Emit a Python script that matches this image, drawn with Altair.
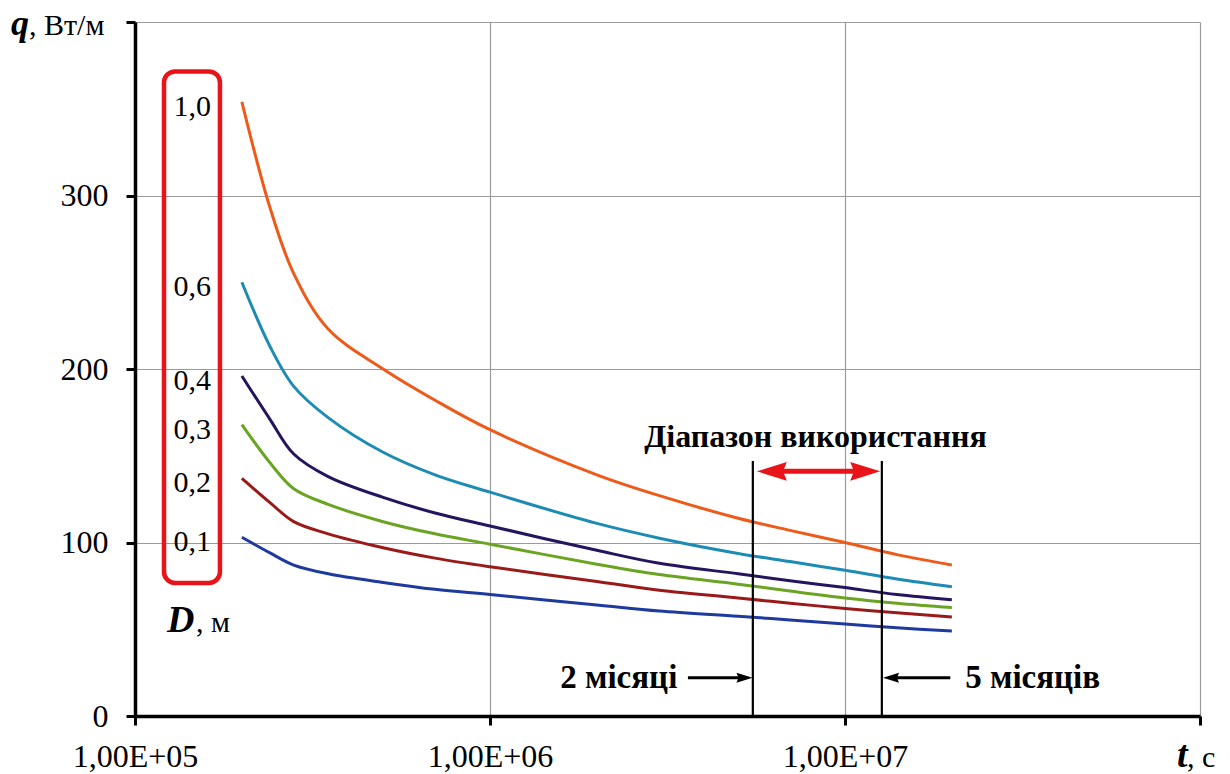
import altair as alt
import pandas as pd

# ---- data ----
t_values = [2e5, 2.4e5, 2.8e5, 3.5e5, 5e5, 7e5, 1e6, 2e6, 3e6, 5e6, 7e6, 1e7, 1.4e7, 2e7]
q_d10 = [354, 293, 255, 223, 200, 182, 165, 139, 127, 114, 107, 100, 93, 87]
q_d06 = [250, 213, 190, 172, 152, 139, 129, 111, 102.5, 93.7, 89, 84, 79, 74.5]
q_d04 = [196, 171, 151, 138, 126, 117, 109.5, 95.5, 88, 82, 78, 74, 70, 67]
q_d03 = [168, 146, 131, 122, 112, 105, 99, 87.5, 81.5, 76, 72, 68, 65, 62.5]
q_d02 = [137, 123, 112, 105, 97, 91, 86, 77.5, 72.5, 68, 65, 62, 59.5, 57]
q_d01 = [103, 94, 87, 82, 77, 73, 70, 64, 60.5, 57.5, 55.4, 53, 50.8, 49]
d_labels = ["1,0", "0,6", "0,4", "0,3", "0,2", "0,1"]
series_colors = ["#EE5A1A", "#1E8BB4", "#25145E", "#6BA322", "#9A1A1A", "#1E3A9E"]

x_ticks = [1e5, 1e6, 1e7, 1e8]
y_ticks = [0, 100, 200, 300, 400]

range_bounds = [5.5e6, 1.27e7]      # 2 months / 5 months
range_top_q = 147
range_arrow_q = 141
range_arrow_body = [6.22e6, 1.14e7]
range_title = "Діапазон використання"
range_title_t = 8.26e6
range_title_q = 155

month_q = 22
label_2m = "2 місяці"
label_5m = "5 місяців"

legend_t = 1.45e5
box_t = [1.207e5, 1.735e5]
box_q = [76.7, 371.5]

FONT = "Liberation Serif"

rows = []
for lab, qs in zip(d_labels, [q_d10, q_d06, q_d04, q_d03, q_d02, q_d01]):
    for t, q in zip(t_values, qs):
        rows.append({"t": t, "q": q, "D": lab})
df = pd.DataFrame(rows)

xscale = alt.Scale(type="log", domain=[1e5, 1e8], nice=False)
yscale = alt.Scale(domain=[0, 400], nice=False)

x_axis = alt.Axis(
    values=x_ticks, title=None, labelFlush=False,
    labelExpr="datum.value >= 1e8 ? '' : '1,00E+0' + round(log(datum.value)/LN10)",
    grid=True, gridColor="#9a9a9a", gridWidth=1.2,
    domainColor="black", domainWidth=3.5, tickColor="black", tickWidth=3, tickSize=9,
    labelFont=FONT, labelFontSize=32, labelColor="black", labelPadding=16,
)
y_axis = alt.Axis(
    values=y_ticks, title=None, labelFlush=False,
    labelExpr="datum.value >= 400 ? '' : datum.label",
    grid=True, gridColor="#9a9a9a", gridWidth=1.2,
    domainColor="black", domainWidth=3.5, tickColor="black", tickWidth=3, tickSize=9,
    labelFont=FONT, labelFontSize=32, labelColor="black", labelPadding=18,
)

def X(field):
    return alt.X(field, type="quantitative", scale=xscale, axis=x_axis)

def Y(field):
    return alt.Y(field, type="quantitative", scale=yscale, axis=y_axis)

lines = alt.Chart(df).mark_line(strokeWidth=3, interpolate="catmull-rom").encode(
    x=X("t"),
    y=Y("q"),
    color=alt.Color("D:N", scale=alt.Scale(domain=d_labels, range=series_colors), legend=None),
)

# legend labels
first_q = [q_d10[0], q_d06[0], q_d04[0], q_d03[0], q_d02[0], q_d01[0]]
df_lab = pd.DataFrame({"D": d_labels, "q": first_q, "t": [legend_t] * len(d_labels)})
labels = alt.Chart(df_lab).mark_text(font=FONT, fontSize=30, color="black", dy=5, baseline="middle").encode(
    x=X("t"), y=Y("q"), text="D:N",
)

box = alt.Chart(pd.DataFrame({"t1": [box_t[0]], "t2": [box_t[1]], "q1": [box_q[0]], "q2": [box_q[1]]})).mark_rect(
    fillOpacity=0, stroke="#E8141A", strokeWidth=4.5, cornerRadius=11
).encode(x=X("t1"), x2="t2:Q", y=Y("q1"), y2="q2:Q")

# boundary rules
bounds = alt.Chart(pd.DataFrame({"t": range_bounds, "q1": [range_top_q] * 2, "q2": [0, 0]})).mark_rule(
    color="black", strokeWidth=2.2
).encode(x=X("t"), y=Y("q1"), y2="q2:Q")

# red double arrow
red_body = alt.Chart(pd.DataFrame({"t1": [range_arrow_body[0]], "t2": [range_arrow_body[1]], "q": [range_arrow_q]})).mark_rule(
    color="#E8141A", strokeWidth=5
).encode(x=X("t1"), x2="t2:Q", y=Y("q"))

left_head = "M-1,0L1,-0.62L0.75,0L1,0.62Z"
right_head = "M1,0L-1,-0.62L-0.75,0L-1,0.62Z"
red_heads = alt.Chart(pd.DataFrame({"t": range_arrow_body, "q": [range_arrow_q] * 2, "dir": ["l", "r"]})).mark_point(
    filled=True, opacity=1, color="#E8141A", size=900
).encode(
    x=X("t"), y=Y("q"),
    shape=alt.Shape("dir:N", scale=alt.Scale(domain=["l", "r"], range=[left_head, right_head]), legend=None),
)

range_text = alt.Chart(pd.DataFrame({"t": [range_title_t], "q": [range_title_q], "s": [range_title]})).mark_text(
    font=FONT, fontSize=32, fontWeight="bold", color="black", baseline="alphabetic", align="center"
).encode(x=X("t"), y=Y("q"), text="s:N")

# small black arrows for 2 / 5 months
month_arrow_lines = alt.Chart(pd.DataFrame({"t1": [3.61e6, 1.35e7], "t2": [5.2e6, 1.98e7], "q": [month_q] * 2})).mark_rule(
    color="black", strokeWidth=3
).encode(x=X("t1"), x2="t2:Q", y=Y("q"))

month_heads = alt.Chart(pd.DataFrame({"t": [5.21e6, 1.348e7], "q": [month_q] * 2, "dir": ["r", "l"]})).mark_point(
    filled=True, opacity=1, color="black", size=256
).encode(
    x=X("t"), y=Y("q"),
    shape=alt.Shape("dir:N", scale=alt.Scale(domain=["l", "r"], range=[left_head, right_head]), legend=None),
)
txt2 = alt.Chart(pd.DataFrame({"t": [3.37e6], "q": [month_q], "s": [label_2m]})).mark_text(
    font=FONT, fontSize=33, fontWeight="bold", color="black", align="right", baseline="middle"
).encode(x=X("t"), y=Y("q"), text="s:N")
txt5 = alt.Chart(pd.DataFrame({"t": [2.18e7], "q": [month_q], "s": [label_5m]})).mark_text(
    font=FONT, fontSize=33, fontWeight="bold", color="black", align="left", baseline="middle"
).encode(x=X("t"), y=Y("q"), text="s:N")

# axis titles (mixed styles)
one = pd.DataFrame({"a": [0]})
def ttext(s, x, y, size, bold_italic):
    kw = dict(font=FONT, fontSize=size, color="black", align="left", baseline="alphabetic")
    if bold_italic:
        kw.update(fontWeight="bold", fontStyle="italic")
    return alt.Chart(one).mark_text(**kw).encode(x=alt.value(x), y=alt.value(y), text=alt.value(s))

titles = [
    ttext("q", -124, 13, 36, True),
    ttext(", Вт/м", -106, 13, 30, False),
    ttext("D", 32, 610, 38, True),
    ttext(", м", 61, 610, 30, False),
    ttext("t", 1042, 745, 38, True),
    ttext(", с", 1052, 745, 30, False),
]

chart = alt.layer(
    lines, box, labels, bounds, red_body, red_heads, range_text,
    month_arrow_lines, month_heads, txt2, txt5, *titles
).properties(
    width=1065, height=694,
    autosize=alt.AutoSizeParams(type="none"),
    padding={"left": 135, "top": 22, "right": 30, "bottom": 58},
    background="white",
).configure_view(stroke=None)

chart.save("out.html", embed_options={"renderer": "svg", "actions": False})
